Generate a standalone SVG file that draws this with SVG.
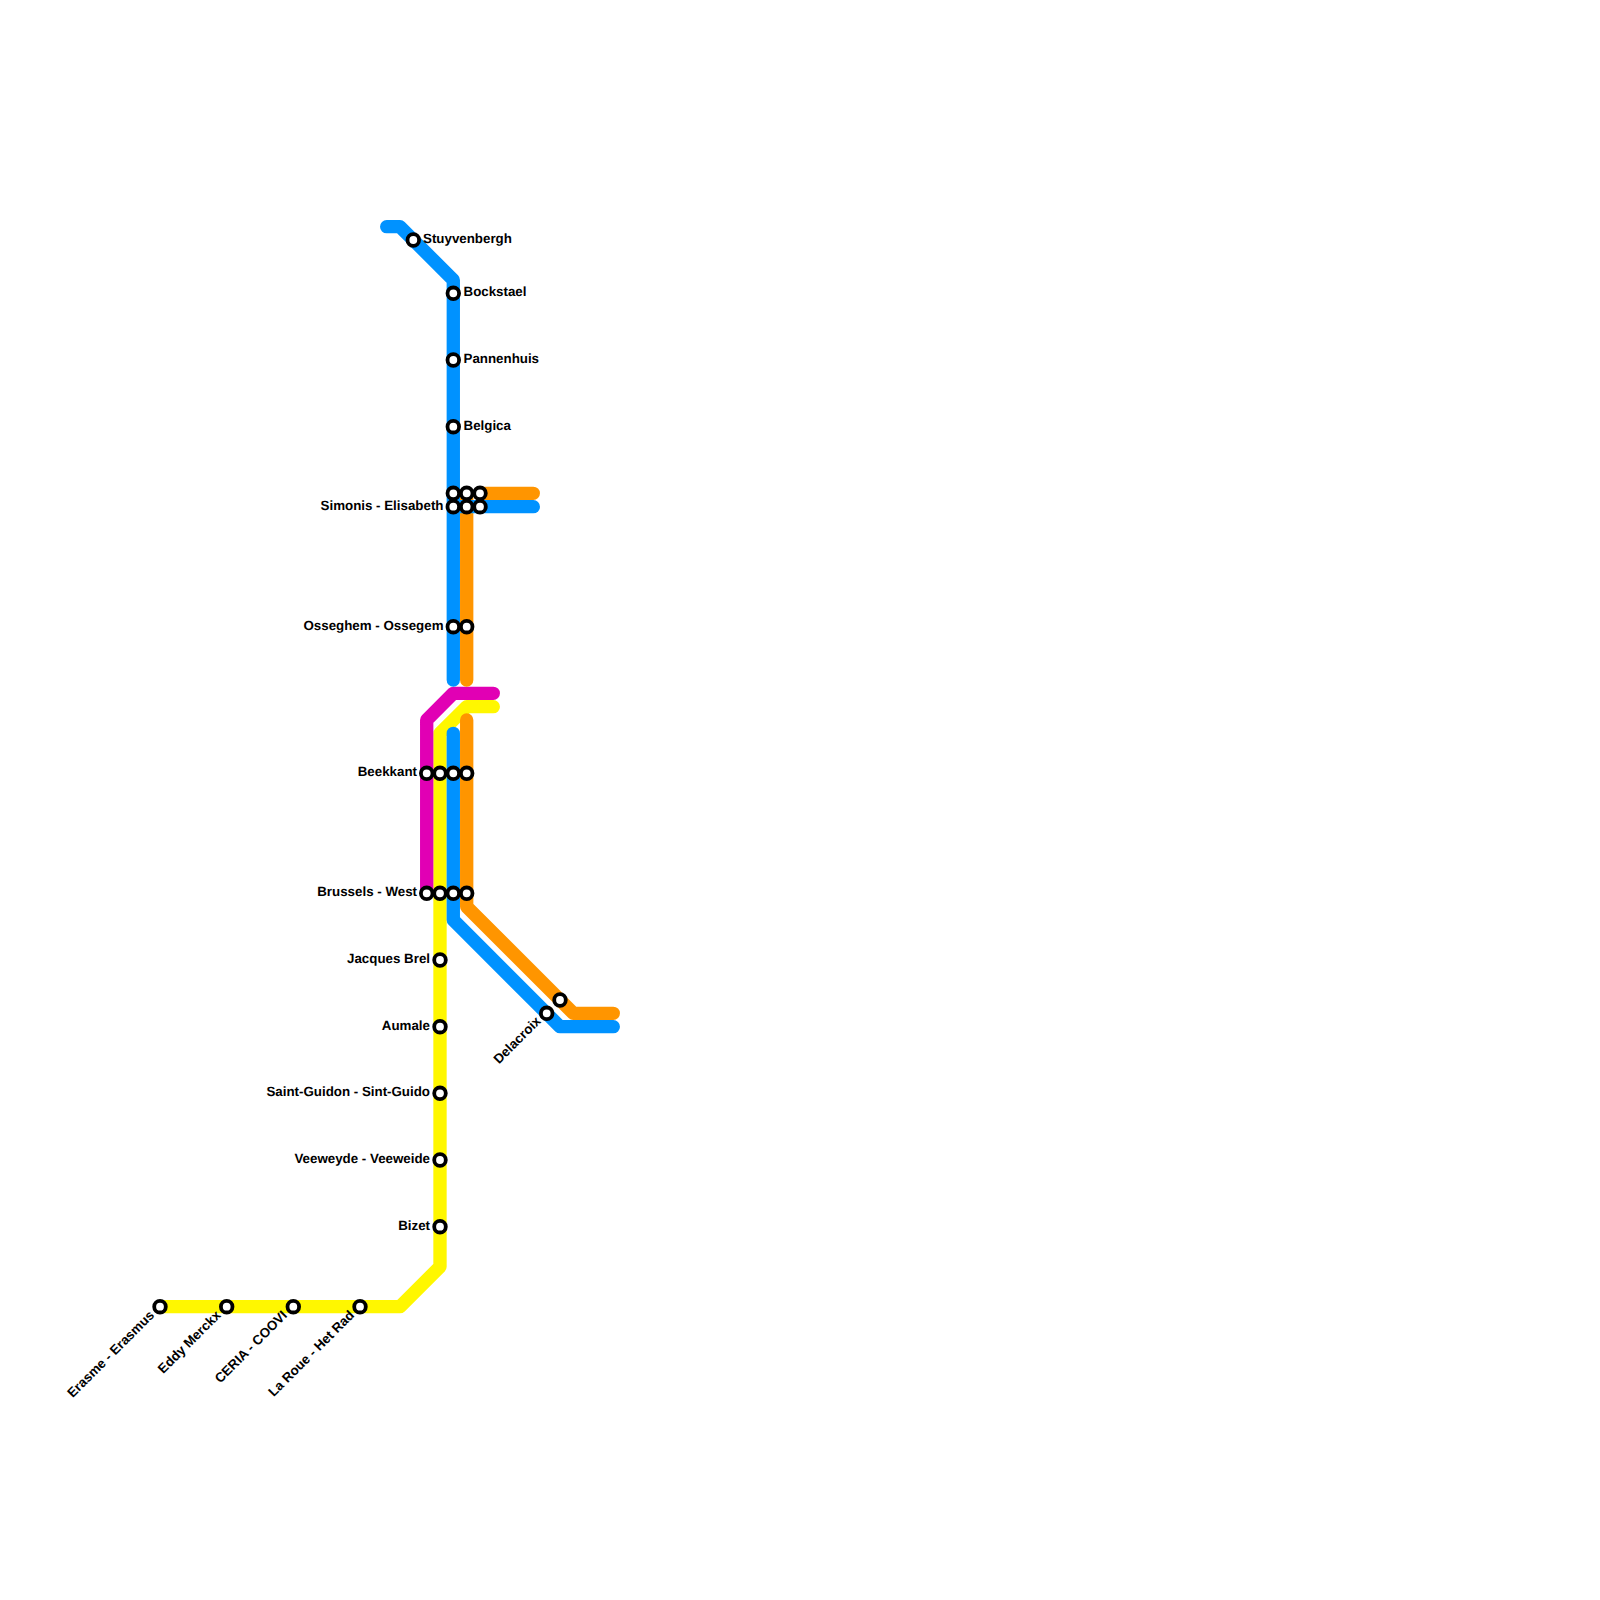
<svg xmlns="http://www.w3.org/2000/svg" width="1600" height="1600" viewBox="0 0 1600 1600">
<style>
.l{fill:none;stroke-width:13.33;stroke-linecap:round;stroke-linejoin:round}
.b{stroke:#0092ff}.o{stroke:#ff9500}.y{stroke:#fff700}.m{stroke:#e100b4}
.s{fill:#fff;stroke:#000;stroke-width:3.8}
text{font-family:"Liberation Sans",Arial,sans-serif;font-weight:700;font-size:13.33px;fill:#000;text-rendering:geometricPrecision}
.e{text-anchor:end}
</style>
<rect width="1600" height="1600" fill="#fff"/>
<g id="connectors">
<path class="l y" d="M493.3 706.7H466.7L440 733.3V1266.7L400 1306.7H160"/>
<path class="l m" d="M426.7 893.3V720L453.3 693.3H493.3"/>
<path class="l o" d="M533.3 493.3H480M466.7 493.3V680"/>
<path class="l b" d="M386.7 226.7H400L453.3 280V680"/>
<path class="l b" d="M533.3 506.7H453.3"/>
<path class="l o" d="M466.7 720V906.7L573.3 1013.3H613.3"/>
<path class="l b" d="M453.3 733.3V920L560 1026.7H613.3"/>
</g>
<g id="stuyvenbergh"><circle class="s" cx="413.3" cy="240" r="5.8"/><text x="423" y="243">Stuyvenbergh</text></g>
<g id="bockstael"><circle class="s" cx="453.3" cy="293.3" r="5.8"/><text x="463.5" y="296.3">Bockstael</text></g>
<g id="pannenhuis"><circle class="s" cx="453.3" cy="360" r="5.8"/><text x="463.5" y="363">Pannenhuis</text></g>
<g id="belgica"><circle class="s" cx="453.3" cy="426.7" r="5.8"/><text x="463.5" y="429.7">Belgica</text></g>
<g id="simonis"><circle class="s" cx="453.3" cy="493.3" r="5.8"/><circle class="s" cx="466.7" cy="493.3" r="5.8"/><circle class="s" cx="480" cy="493.3" r="5.8"/><circle class="s" cx="453.3" cy="506.7" r="5.8"/><circle class="s" cx="466.7" cy="506.7" r="5.8"/><circle class="s" cx="480" cy="506.7" r="5.8"/><text class="e" x="443.5" y="509.7">Simonis - Elisabeth</text></g>
<g id="osseghem"><circle class="s" cx="453.3" cy="626.7" r="5.8"/><circle class="s" cx="466.7" cy="626.7" r="5.8"/><text class="e" x="443.5" y="629.7">Osseghem - Ossegem</text></g>
<g id="beekkant"><circle class="s" cx="426.7" cy="773.3" r="5.8"/><circle class="s" cx="440" cy="773.3" r="5.8"/><circle class="s" cx="453.3" cy="773.3" r="5.8"/><circle class="s" cx="466.7" cy="773.3" r="5.8"/><text class="e" x="417" y="776.3">Beekkant</text></g>
<g id="brussels-west"><circle class="s" cx="426.7" cy="893.3" r="5.8"/><circle class="s" cx="440" cy="893.3" r="5.8"/><circle class="s" cx="453.3" cy="893.3" r="5.8"/><circle class="s" cx="466.7" cy="893.3" r="5.8"/><text class="e" x="417" y="896.3">Brussels - West</text></g>
<g id="jacques-brel"><circle class="s" cx="440" cy="960" r="5.8"/><text class="e" x="430" y="963">Jacques Brel</text></g>
<g id="aumale"><circle class="s" cx="440" cy="1026.7" r="5.8"/><text class="e" x="430" y="1029.7">Aumale</text></g>
<g id="saint-guidon"><circle class="s" cx="440" cy="1093.3" r="5.8"/><text class="e" x="430" y="1096.3">Saint-Guidon - Sint-Guido</text></g>
<g id="veeweyde"><circle class="s" cx="440" cy="1160" r="5.8"/><text class="e" x="430" y="1163">Veeweyde - Veeweide</text></g>
<g id="bizet"><circle class="s" cx="440" cy="1226.7" r="5.8"/><text class="e" x="430" y="1229.7">Bizet</text></g>
<g id="delacroix"><circle class="s" cx="546.7" cy="1013.3" r="5.8"/><circle class="s" cx="560" cy="1000" r="5.8"/><text class="e" transform="translate(541.5 1022) rotate(-45)">Delacroix</text></g>
<g id="erasme"><circle class="s" cx="160" cy="1306.7" r="5.8"/><text class="e" transform="translate(155 1316) rotate(-45)">Erasme - Erasmus</text></g>
<g id="eddy-merckx"><circle class="s" cx="226.7" cy="1306.7" r="5.8"/><text class="e" transform="translate(221.5 1316) rotate(-45)">Eddy Merckx</text></g>
<g id="ceria"><circle class="s" cx="293.3" cy="1306.7" r="5.8"/><text class="e" transform="translate(288 1316) rotate(-45)">CERIA - COOVI</text></g>
<g id="la-roue"><circle class="s" cx="360" cy="1306.7" r="5.8"/><text class="e" transform="translate(355 1316) rotate(-45)">La Roue - Het Rad</text></g>
</svg>
